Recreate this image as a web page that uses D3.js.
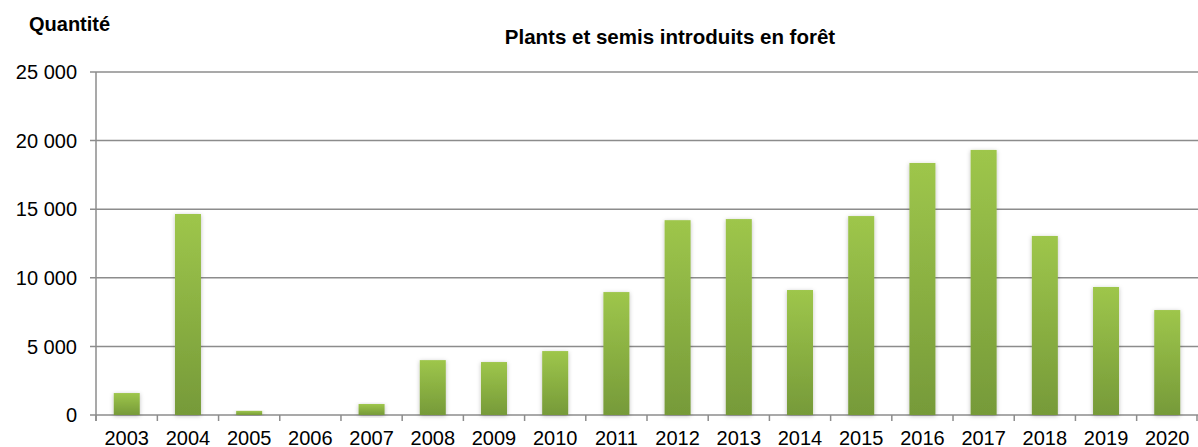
<!DOCTYPE html>
<html>
<head>
<meta charset="utf-8">
<script src="https://cdn.jsdelivr.net/npm/d3@7"></script>
<style>
  body { margin: 0; background: #fff; }
  text { font-family: "Liberation Sans", Arial, sans-serif; fill: #000; }
</style>
</head>
<body>
<script>
let years = ['2003', '2004', '2005', '2006', '2007', '2008', '2009', '2010', '2011',
             '2012', '2013', '2014', '2015', '2016', '2017', '2018', '2019', '2020']
let quantities = [1600, 14650, 300, 0, 800, 4000, 3860, 4660, 8960,
                  14200, 14280, 9110, 14500, 18370, 19320, 13050, 9330, 7650]
let yTicks = [0, 5000, 10000, 15000, 20000, 25000]

let width = 1198, height = 447
let margin = { top: 72, right: 0, bottom: 32, left: 96 }

let svg = d3.select('body')
    .append('svg')
    .attr('width', width)
    .attr('height', height)

let defs = svg.append('defs')
let grad = defs.append('linearGradient')
    .attr('id', 'barGrad')
    .attr('x1', 0).attr('y1', 0).attr('x2', 0).attr('y2', 1)
grad.append('stop').attr('offset', '0%').attr('stop-color', '#9ec64b')
grad.append('stop').attr('offset', '100%').attr('stop-color', '#769a39')

let shadow = defs.append('filter')
    .attr('id', 'shadow')
    .attr('x', '-30%').attr('y', '-10%').attr('width', '160%').attr('height', '130%')
shadow.append('feDropShadow')
    .attr('dx', 0).attr('dy', 1).attr('stdDeviation', 2)
    .attr('flood-color', '#000').attr('flood-opacity', 0.25)

let x = d3.scaleBand()
    .domain(years)
    .range([margin.left, width - margin.right])
    .paddingInner(0.575)
    .paddingOuter(0.29)

let y = d3.scaleLinear()
    .domain([0, 25000])
    .range([height - margin.bottom, margin.top])

//gridlines
svg.append('g')
    .selectAll('line')
    .data(yTicks)
    .enter()
    .append('line')
    .attr('x1', margin.left - 6)
    .attr('x2', width - margin.right)
    .attr('y1', d => y(d))
    .attr('y2', d => y(d))
    .attr('stroke', '#8c8c8c')
    .attr('stroke-width', 1.5)

//y labels
let fmt = d => d === 0 ? '0' : d3.format(',')(d).replace(',', ' ')
svg.append('g')
    .selectAll('text')
    .data(yTicks)
    .enter()
    .append('text')
    .attr('x', 77)
    .attr('y', d => y(d))
    .attr('dy', '0.36em')
    .attr('text-anchor', 'end')
    .style('font-size', '20px')
    .text(fmt)

//y axis line
svg.append('line')
    .attr('x1', margin.left).attr('x2', margin.left)
    .attr('y1', y(25000)).attr('y2', y(0) + 6)
    .attr('stroke', '#8c8c8c')
    .attr('stroke-width', 1.5)

//x ticks at band boundaries
let bounds = years.map(d => x(d) - x.step() * x.paddingInner() / 2)
bounds[0] = margin.left
bounds.push(width - margin.right - 1)
svg.append('g')
    .selectAll('line')
    .data(bounds)
    .enter()
    .append('line')
    .attr('x1', d => d).attr('x2', d => d)
    .attr('y1', y(0)).attr('y2', y(0) + 6)
    .attr('stroke', '#8c8c8c')
    .attr('stroke-width', 1.5)

//bars
svg.append('g')
    .selectAll('rect')
    .data(years.map((yr, i) => ({ year: yr, value: quantities[i] })).filter(d => d.value > 0))
    .enter()
    .append('rect')
    .attr('x', d => x(d.year))
    .attr('y', d => y(d.value))
    .attr('width', x.bandwidth())
    .attr('height', d => y(0) - y(d.value))
    .attr('fill', 'url(#barGrad)')
    .attr('filter', 'url(#shadow)')

//x labels
svg.append('g')
    .selectAll('text')
    .data(years)
    .enter()
    .append('text')
    .attr('x', d => x(d) + x.bandwidth() / 2)
    .attr('y', 445)
    .attr('text-anchor', 'middle')
    .style('font-size', '20px')
    .text(d => d)

svg.append('text')
    .attr('x', 29)
    .attr('y', 31)
    .style('font-size', '20px')
    .style('font-weight', 'bold')
    .text('Quantité')

svg.append('text')
    .attr('x', 670)
    .attr('y', 44)
    .attr('text-anchor', 'middle')
    .style('font-size', '20.5px')
    .style('font-weight', 'bold')
    .text('Plants et semis introduits en forêt')
</script>
</body>
</html>
